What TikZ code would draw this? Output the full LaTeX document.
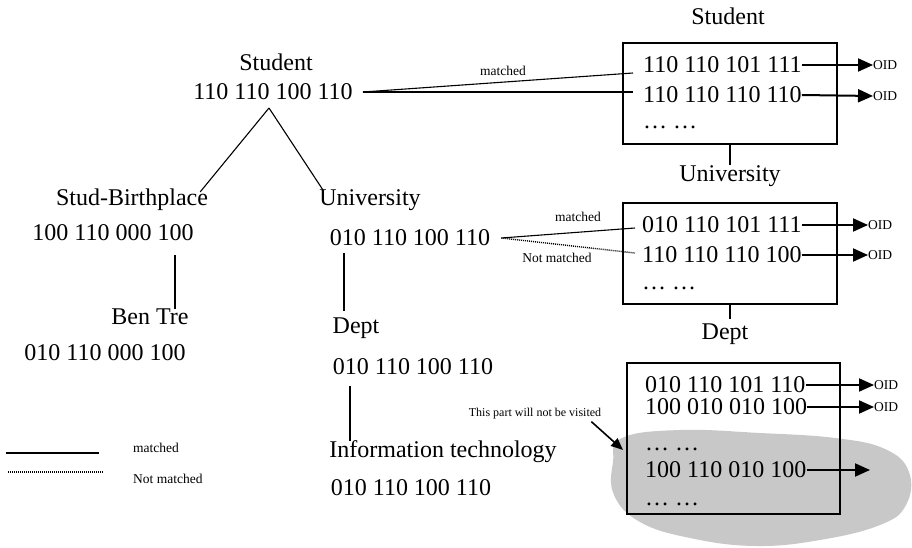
\documentclass[tikz,border=0pt]{standalone}
\usepackage{fontspec}
\setmainfont{Liberation Serif}
\usetikzlibrary{arrows.meta}
\definecolor{blobgray}{RGB}{200,200,200}
\begin{document}
\begin{tikzpicture}[x=1pt,y=-1pt,
  big/.style={inner sep=0pt,font=\fontsize{24pt}{28pt}\selectfont},
  row/.style={big,anchor=west},
  dotrow/.style={big,anchor=base west},
  small/.style={inner sep=0pt,font=\fontsize{13.5pt}{16pt}\selectfont},
  tiny/.style={inner sep=0pt,font=\fontsize{12pt}{14pt}\selectfont},
  idx/.style={draw,line width=1.3pt,inner sep=0pt},
  link/.style={line width=1.1pt},
  nolink/.style={line width=1.4pt,dash pattern=on 1pt off 1pt},
  oidarrow/.style={line width=2pt,-{Triangle[length=15pt,width=13pt]}}
]
\useasboundingbox (0,0) rectangle (912,548);

% ---------- gray blob ----------
\fill[blobgray] plot[smooth cycle,tension=0.7] coordinates {
  (622,438) (680,430) (760,433) (835,438) (885,449) (909,472) (906,505)
  (880,525) (820,540) (755,546) (690,538) (640,522) (614,495) (613,462)};

% ---------- left tree ----------
\node[big] (sL) at (276,62) {Student};
\node[big] (sN) at (273,92) {110 110 100 110};
\coordinate (apex) at (269,108);
\node[big] (bpL) at (132,200) {Stud-Birthplace};
\node[big] (bpN) at (113,233) {100 110 000 100};
\node[big] (btL) at (150,317) {Ben Tre};
\node[big] (btN) at (105,353) {010 110 000 100};
\node[big] (uL) at (370,200) {University};
\node[big] (uN) at (410,238) {010 110 100 110};
\node[big] (dL) at (356,328) {Dept};
\node[big] (dN) at (413,367) {010 110 100 110};
\node[big] (itL) at (443,452) {Information technology};
\node[big] (itN) at (411,488) {010 110 100 110};

\draw[link] (apex) -- ([xshift=-8pt,yshift=-3pt]bpL.north east);
\draw[link] (apex) -- ([xshift=4pt,yshift=-1pt]uL.north west);
\draw[link] ([yshift=-14pt]bpN.south -| 175,0) coordinate (bp1) -- (btL.north -| bp1);
\draw[link] ([yshift=-7pt]uN.south -| 344,0) coordinate (u1) -- ([yshift=6pt]dL.north -| u1);
\draw[link] ([yshift=-11pt]dN.south -| 350,0) coordinate (d1) -- (itL.north -| d1);

% ---------- right: Student index ----------
\node[big] (sTop) at (728,16) {Student};
\node[idx,minimum width=214pt,minimum height=101pt] (sbox) at (730,93.5) {};
\node[row] (sr1) at (643,65) {110 110 101 111};
\node[row] (sr2) at (643,95) {110 110 110 110};
\node[dotrow] (sr3) at (643,129) {\dots\ \dots};
\node[small,anchor=west] (so1) at (873,65) {OID};
\node[small,anchor=west] (so2) at (873,96) {OID};
\draw[oidarrow] (sr1.east) -- (so1.west);
\draw[oidarrow] (sr2.east) -- (so2.west);

% ---------- right: University index ----------
\node[big] (uTop) at (730,176) {University};
\node[idx,minimum width=214pt,minimum height=101pt] (ubox) at (730,253.5) {};
\node[row] (ur1) at (642,225) {010 110 101 111};
\node[row] (ur2) at (642,255) {110 110 110 100};
\node[dotrow] (ur3) at (642,289) {\dots\ \dots};
\node[small,anchor=west] (uo1) at (868,225) {OID};
\node[small,anchor=west] (uo2) at (868,255) {OID};
\draw[oidarrow] (ur1.east) -- (uo1.west);
\draw[oidarrow] (ur2.east) -- (uo2.west);

% ---------- right: Dept index ----------
\node[big] (dTop) at (725,334) {Dept};
\node[idx,minimum width=213pt,minimum height=151pt] (dbox) at (733.5,438.5) {};
\node[row] (dr1) at (645,385) {010 110 101 110};
\node[row] (dr2) at (645,407) {100 010 010 100};
\node[dotrow] (dr3) at (645,450) {\dots\ \dots};
\node[row] (dr4) at (645,470) {100 110 010 100};
\node[dotrow] (dr5) at (645,505) {\dots\ \dots};
\node[small,anchor=west] (do1) at (874,385) {OID};
\node[small,anchor=west] (do2) at (874,407) {OID};
\coordinate (do4) at (870,470);
\draw[oidarrow] (dr1.east) -- (do1.west);
\draw[oidarrow] (dr2.east) -- (do2.west);
\draw[oidarrow] (dr4.east) -- (do4);

% ---------- links between index boxes ----------
\draw[link] (sbox.south) -- (uTop.north -| sbox.south);
\draw[link] (ubox.south) -- ([yshift=4pt]dTop.north -| ubox.south);

% ---------- matching links ----------
\draw[link] ([xshift=10pt]sN.east) -- ([xshift=-10pt,yshift=-8pt]sr1.west);
\draw[link] ([xshift=10pt]sN.east) -- ([xshift=-10pt]sN.east -| sr2.west);
\node[small] (m1) at (503,71) {matched};

\draw[link] ([xshift=11pt]uN.east) -- ([xshift=-7pt,yshift=-3pt]ur1.west);
\draw[nolink] ([xshift=11pt]uN.east) -- ([xshift=-7pt,yshift=2pt]ur2.west);
\node[small] (m2) at (578,217) {matched};
\node[small] (nm2) at (557,258) {Not matched};

% ---------- note ----------
\node[tiny] (note) at (535,414) {This part will not be visited};
\coordinate (noteEnd) at (623,450);
\draw[line width=1.6pt,-{Triangle[length=12pt,width=10pt]}] ([xshift=-10pt,yshift=-2pt]note.south east) -- (noteEnd);

% ---------- legend ----------
\coordinate (lg1a) at (6,453);
\coordinate (lg1b) at (99,453);
\coordinate (lg2a) at (8,472);
\coordinate (lg2b) at (103,472);
\draw[link,line width=1.5pt] (lg1a) -- (lg1b);
\draw[nolink] (lg2a) -- (lg2b);
\node[small,anchor=west] (lgm) at (133,448) {matched};
\node[small,anchor=west] (lgn) at (133,479) {Not matched};
\end{tikzpicture}
\end{document}
